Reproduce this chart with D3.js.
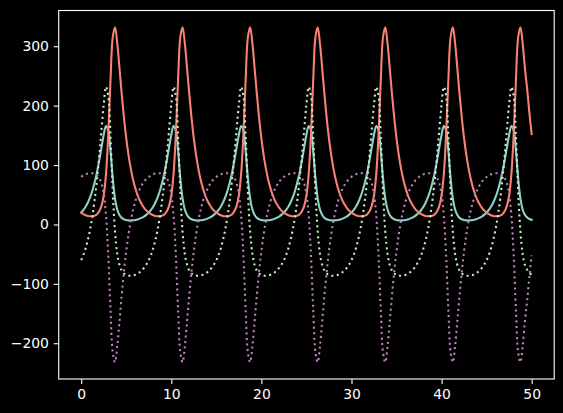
<!DOCTYPE html>
<html><head><meta charset="utf-8">
<script src="https://cdn.jsdelivr.net/npm/d3@7/dist/d3.min.js"></script>
<style>html,body{margin:0;padding:0;background:#000;} svg{display:block;}</style>
</head><body>
<svg id="chart" width="563" height="413"></svg>
<script>
// sampled every 0.25 time units, t = 0 .. 50
const preyValues = [
20.0, 24.5, 30.2, 37.4, 46.4, 57.6, 71.3, 88.0, 107.8, 129.7, 151.1, 165.8, 158.4, 123.9, 77.9, 43.9, 25.2, 15.9, 11.1, 8.7, 7.4, 6.9, 6.8, 7.1, 7.6, 8.5, 9.8, 11.5, 13.7, 16.5,
20.0, 24.5, 30.2, 37.4, 46.4, 57.6, 71.3, 88.0, 107.8, 129.7, 151.1, 165.8, 158.4, 123.9, 77.9, 43.9, 25.2, 15.9, 11.1, 8.7, 7.4, 6.9, 6.8, 7.1, 7.6, 8.5, 9.8, 11.5, 13.7, 16.5,
20.0, 24.5, 30.2, 37.4, 46.4, 57.6, 71.3, 88.0, 107.8, 129.7, 151.1, 165.8, 158.4, 123.9, 77.9, 43.9, 25.2, 15.9, 11.1, 8.7, 7.4, 6.9, 6.8, 7.1, 7.6, 8.5, 9.8, 11.5, 13.7, 16.5,
20.0, 24.5, 30.2, 37.4, 46.4, 57.6, 71.3, 88.0, 107.8, 129.7, 151.1, 165.8, 158.4, 123.9, 77.9, 43.9, 25.2, 15.9, 11.1, 8.7, 7.4, 6.9, 6.8, 7.1, 7.6, 8.5, 9.8, 11.5, 13.7, 16.5,
20.0, 24.5, 30.2, 37.4, 46.4, 57.6, 71.3, 88.0, 107.8, 129.7, 151.1, 165.8, 158.4, 123.9, 77.9, 43.9, 25.2, 15.9, 11.1, 8.7, 7.4, 6.9, 6.8, 7.1, 7.6, 8.5, 9.8, 11.5, 13.7, 16.5,
20.0, 24.5, 30.2, 37.4, 46.4, 57.6, 71.3, 88.0, 107.8, 129.7, 151.1, 165.8, 158.4, 123.9, 77.9, 43.9, 25.2, 15.9, 11.1, 8.7, 7.4, 6.9, 6.8, 7.1, 7.6, 8.5, 9.8, 11.5, 13.7, 16.5,
20.0, 24.5, 30.2, 37.4, 46.4, 57.6, 71.3, 88.0, 107.8, 129.7, 151.1, 165.8, 158.4, 123.9, 77.9, 43.9, 25.2, 15.9, 11.8, 9.1, 7.7
];
const predatorValues = [
20.0, 17.4, 15.5, 14.3, 13.8, 13.9, 14.9, 17.3, 22.1, 31.2, 49.2, 85.1, 151.2, 242.7, 315.5, 332.0, 305.0, 262.6, 218.5, 178.6, 144.7, 116.7, 94.0, 75.8, 61.2, 49.6, 40.4, 33.2, 27.5, 23.1,
20.0, 17.4, 15.5, 14.3, 13.8, 13.9, 14.9, 17.3, 22.1, 31.2, 49.2, 85.1, 151.2, 242.7, 315.5, 332.0, 305.0, 262.6, 218.5, 178.6, 144.7, 116.7, 94.0, 75.8, 61.2, 49.6, 40.4, 33.2, 27.5, 23.1,
20.0, 17.4, 15.5, 14.3, 13.8, 13.9, 14.9, 17.3, 22.1, 31.2, 49.2, 85.1, 151.2, 242.7, 315.5, 332.0, 305.0, 262.6, 218.5, 178.6, 144.7, 116.7, 94.0, 75.8, 61.2, 49.6, 40.4, 33.2, 27.5, 23.1,
20.0, 17.4, 15.5, 14.3, 13.8, 13.9, 14.9, 17.3, 22.1, 31.2, 49.2, 85.1, 151.2, 242.7, 315.5, 332.0, 305.0, 262.6, 218.5, 178.6, 144.7, 116.7, 94.0, 75.8, 61.2, 49.6, 40.4, 33.2, 27.5, 23.1,
20.0, 17.4, 15.5, 14.3, 13.8, 13.9, 14.9, 17.3, 22.1, 31.2, 49.2, 85.1, 151.2, 242.7, 315.5, 332.0, 305.0, 262.6, 218.5, 178.6, 144.7, 116.7, 94.0, 75.8, 61.2, 49.6, 40.4, 33.2, 27.5, 23.1,
20.0, 17.4, 15.5, 14.3, 13.8, 13.9, 14.9, 17.3, 22.1, 31.2, 49.2, 85.1, 151.2, 242.7, 315.5, 332.0, 305.0, 262.6, 218.5, 178.6, 144.7, 116.7, 94.0, 75.8, 61.2, 49.6, 40.4, 33.2, 27.5, 23.1,
20.0, 17.4, 15.5, 14.3, 13.8, 13.9, 14.9, 17.3, 22.1, 31.2, 49.2, 85.1, 151.2, 242.7, 315.5, 332.0, 305.0, 262.6, 228.0, 187.0, 152.0
];
const preyRateValues = [
80.0, 82.6, 84.5, 85.7, 86.2, 86.1, 85.1, 82.7, 77.9, 68.8, 50.8, 14.9, -51.2, -142.7, -215.5, -232.0, -205.0, -162.6, -118.5, -78.6, -44.7, -16.7, 6.0, 24.2, 38.8, 50.4, 59.6, 66.8, 72.5, 76.9,
80.0, 82.6, 84.5, 85.7, 86.2, 86.1, 85.1, 82.7, 77.9, 68.8, 50.8, 14.9, -51.2, -142.7, -215.5, -232.0, -205.0, -162.6, -118.5, -78.6, -44.7, -16.7, 6.0, 24.2, 38.8, 50.4, 59.6, 66.8, 72.5, 76.9,
80.0, 82.6, 84.5, 85.7, 86.2, 86.1, 85.1, 82.7, 77.9, 68.8, 50.8, 14.9, -51.2, -142.7, -215.5, -232.0, -205.0, -162.6, -118.5, -78.6, -44.7, -16.7, 6.0, 24.2, 38.8, 50.4, 59.6, 66.8, 72.5, 76.9,
80.0, 82.6, 84.5, 85.7, 86.2, 86.1, 85.1, 82.7, 77.9, 68.8, 50.8, 14.9, -51.2, -142.7, -215.5, -232.0, -205.0, -162.6, -118.5, -78.6, -44.7, -16.7, 6.0, 24.2, 38.8, 50.4, 59.6, 66.8, 72.5, 76.9,
80.0, 82.6, 84.5, 85.7, 86.2, 86.1, 85.1, 82.7, 77.9, 68.8, 50.8, 14.9, -51.2, -142.7, -215.5, -232.0, -205.0, -162.6, -118.5, -78.6, -44.7, -16.7, 6.0, 24.2, 38.8, 50.4, 59.6, 66.8, 72.5, 76.9,
80.0, 82.6, 84.5, 85.7, 86.2, 86.1, 85.1, 82.7, 77.9, 68.8, 50.8, 14.9, -51.2, -142.7, -215.5, -232.0, -205.0, -162.6, -118.5, -78.6, -44.7, -16.7, 6.0, 24.2, 38.8, 50.4, 59.6, 66.8, 72.5, 76.9,
80.0, 82.6, 84.5, 85.7, 86.2, 86.1, 85.1, 82.7, 77.9, 68.8, 50.8, 14.9, -51.2, -142.7, -215.5, -232.0, -205.0, -162.6, -128.0, -87.0, -52.0
];
const predatorRateValues = [
-60.0, -51.0, -39.6, -25.2, -7.2, 15.2, 42.6, 76.0, 115.6, 159.4, 202.2, 231.6, 216.8, 147.8, 55.8, -12.2, -49.6, -68.2, -77.8, -82.6, -85.2, -86.2, -86.4, -85.8, -84.8, -83.0, -80.4, -77.0, -72.6, -67.0,
-60.0, -51.0, -39.6, -25.2, -7.2, 15.2, 42.6, 76.0, 115.6, 159.4, 202.2, 231.6, 216.8, 147.8, 55.8, -12.2, -49.6, -68.2, -77.8, -82.6, -85.2, -86.2, -86.4, -85.8, -84.8, -83.0, -80.4, -77.0, -72.6, -67.0,
-60.0, -51.0, -39.6, -25.2, -7.2, 15.2, 42.6, 76.0, 115.6, 159.4, 202.2, 231.6, 216.8, 147.8, 55.8, -12.2, -49.6, -68.2, -77.8, -82.6, -85.2, -86.2, -86.4, -85.8, -84.8, -83.0, -80.4, -77.0, -72.6, -67.0,
-60.0, -51.0, -39.6, -25.2, -7.2, 15.2, 42.6, 76.0, 115.6, 159.4, 202.2, 231.6, 216.8, 147.8, 55.8, -12.2, -49.6, -68.2, -77.8, -82.6, -85.2, -86.2, -86.4, -85.8, -84.8, -83.0, -80.4, -77.0, -72.6, -67.0,
-60.0, -51.0, -39.6, -25.2, -7.2, 15.2, 42.6, 76.0, 115.6, 159.4, 202.2, 231.6, 216.8, 147.8, 55.8, -12.2, -49.6, -68.2, -77.8, -82.6, -85.2, -86.2, -86.4, -85.8, -84.8, -83.0, -80.4, -77.0, -72.6, -67.0,
-60.0, -51.0, -39.6, -25.2, -7.2, 15.2, 42.6, 76.0, 115.6, 159.4, 202.2, 231.6, 216.8, 147.8, 55.8, -12.2, -49.6, -68.2, -77.8, -82.6, -85.2, -86.2, -86.4, -85.8, -84.8, -83.0, -80.4, -77.0, -72.6, -67.0,
-60.0, -51.0, -39.6, -25.2, -7.2, 15.2, 42.6, 76.0, 115.6, 159.4, 202.2, 231.6, 216.8, 147.8, 55.8, -12.2, -49.6, -68.2, -76.4, -81.8, -84.6
];
const timeStep = 0.25;
const xTickValues = [0, 10, 20, 30, 40, 50];
const yTickValues = [-200, -100, 0, 100, 200, 300];

const times = preyValues.map((_, i) => i * timeStep);

const svg = d3.select("#chart");
svg.append("rect").attr("width", 563).attr("height", 413).attr("fill", "#000");

const plotLeft = 58.7, plotRight = 554.2, plotTop = 10.5, plotBottom = 379;

const xMin = d3.min(times), xMax = d3.max(times);
const xPad = (xMax - xMin) * 0.05;
const x = d3.scaleLinear().domain([xMin - xPad, xMax + xPad]).range([plotLeft, plotRight]);

const allVals = [].concat(preyValues, predatorValues, preyRateValues, predatorRateValues);
const yMin = d3.min(allVals), yMax = d3.max(allVals);
const yPad = (yMax - yMin) * 0.05;
const y = d3.scaleLinear().domain([yMin - yPad, yMax + yPad]).range([plotBottom, plotTop]);

const series = [
  {values: preyValues, color: "#8dd3c7", dash: null},
  {values: predatorValues, color: "#fa8174", dash: null},
  {values: predatorRateValues, color: "#ccebc4", dash: "2.08 3.43"},
  {values: preyRateValues, color: "#bc82bd", dash: "2.08 3.43"}
];

svg.append("defs").append("clipPath").attr("id", "clip")
  .append("rect").attr("x", plotLeft).attr("y", plotTop).attr("width", plotRight - plotLeft).attr("height", plotBottom - plotTop);

const line = d3.line().x(d => x(d[0])).y(d => y(d[1])).curve(d3.curveCatmullRom);
const g = svg.append("g").attr("clip-path", "url(#clip)");
series.forEach(s => {
  g.append("path")
    .datum(s.values.map((v, i) => [times[i], v]))
    .attr("d", line)
    .attr("fill", "none")
    .attr("stroke", s.color)
    .attr("stroke-width", 2.08)
    .attr("stroke-linecap", s.dash ? "butt" : "square")
    .attr("stroke-linejoin", "round")
    .attr("stroke-dasharray", s.dash);
});

const fmt = d3.format("d");
const xAxis = d3.axisBottom(x).tickValues(xTickValues).tickSize(4.9).tickPadding(4.9).tickFormat(fmt);
const yAxis = d3.axisLeft(y).tickValues(yTickValues).tickSize(4.9).tickPadding(4.9).tickFormat(fmt);

function styleAxis(sel) {
  sel.select(".domain").remove();
  sel.selectAll(".tick line").attr("stroke", "#fff").attr("stroke-width", 1.1);
  sel.selectAll(".tick text").attr("fill", "#fff")
    .style("font-family", "'DejaVu Sans', sans-serif").style("font-size", "13.9px");
}
svg.append("g").attr("transform", `translate(0,${plotBottom})`).call(xAxis).call(styleAxis);
svg.append("g").attr("transform", `translate(${plotLeft},0)`).call(yAxis).call(styleAxis);

svg.append("rect").attr("x", plotLeft).attr("y", plotTop).attr("width", plotRight - plotLeft).attr("height", plotBottom - plotTop)
  .attr("fill", "none").attr("stroke", "#fff").attr("stroke-width", 1.1);
</script>
</body></html>
